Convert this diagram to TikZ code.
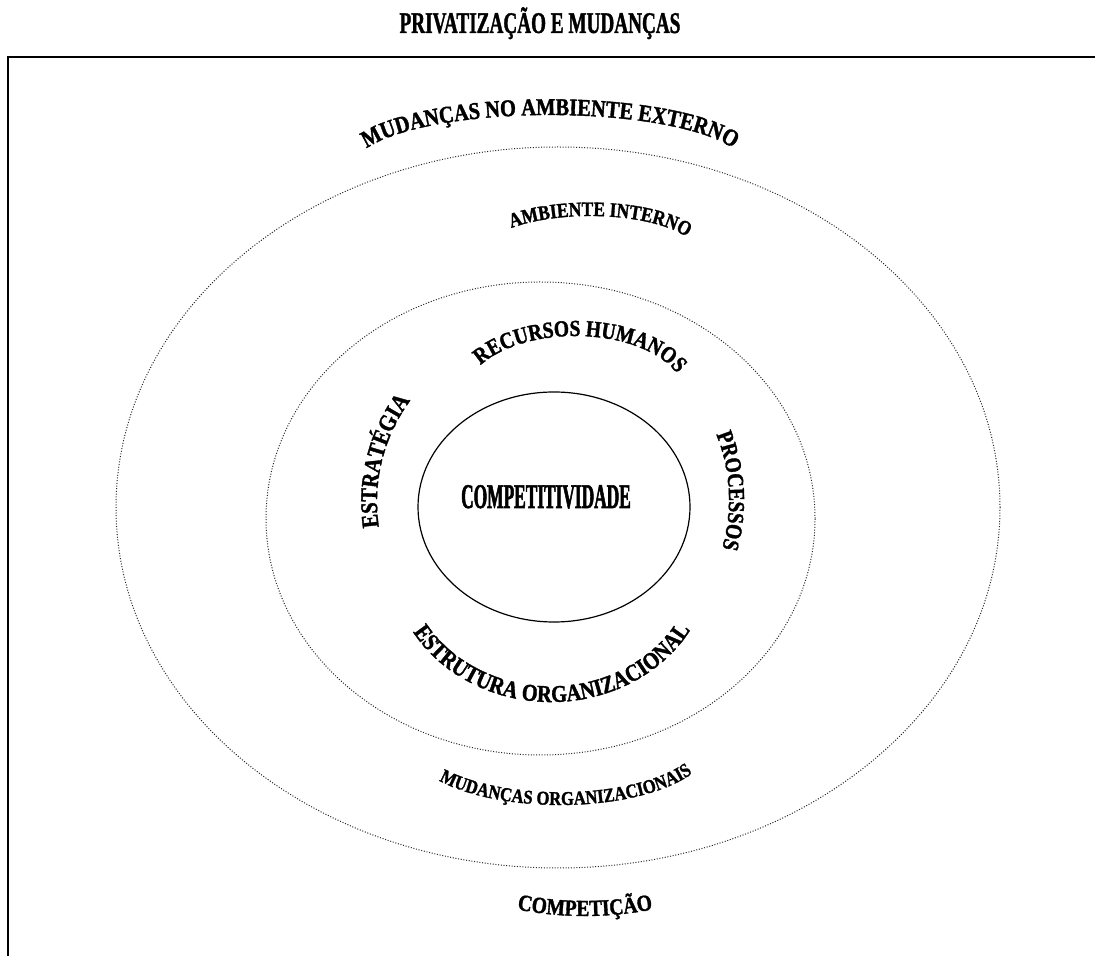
\documentclass[tikz,border=0pt]{standalone}
\usepackage{fontspec}
\setmainfont{Liberation Serif}
\newfontfamily\arcfont{Liberation Serif}[FakeStretch=0.85, FakeBold=1.5]
\newfontfamily\titlefont{Liberation Serif}[FakeStretch=0.64, FakeBold=1.2]
\newfontfamily\compfont{Liberation Serif}[FakeStretch=0.5, FakeBold=1.5]
\usetikzlibrary{decorations.text}
\newcommand\fA{\arcfont\bfseries\fontsize{24}{24}\selectfont}
\newcommand\fB{\arcfont\bfseries\fontsize{20.5}{20.5}\selectfont}
\newcommand\fC{\arcfont\bfseries\fontsize{23}{23}\selectfont}
\newcommand\fD{\arcfont\bfseries\fontsize{24}{24}\selectfont}
\newcommand\fE{\arcfont\bfseries\fontsize{23}{23}\selectfont}
\newcommand\fF{\arcfont\bfseries\fontsize{24}{24}\selectfont}
\newcommand\fG{\arcfont\bfseries\fontsize{19.5}{19.5}\selectfont}
\newcommand\fH{\arcfont\bfseries\fontsize{23}{23}\selectfont}
\tikzset{
  dotline/.style={line width=1pt, dash pattern=on 1pt off 1.7pt, black!85},
  frameline/.style={line width=1.6pt},
  arctext/.style={decorate, decoration={text along path, text align=center, text={#1}}},
}
\begin{document}
\begin{tikzpicture}[x=1pt,y=1pt]
\useasboundingbox (0,0) rectangle (1095,956);
% frame
\draw[frameline] (8,0) -- (8,899) -- (1095,899);
% title
\node[anchor=base, inner sep=0pt] (title) at (540,923) {\titlefont\bfseries\fontsize{30}{30}\selectfont PRIVATIZAÇÃO E MUDANÇAS};
% ellipses
\draw[dotline] (558,448.5) ellipse[x radius=442pt, y radius=360.5pt];
\draw[dotline] (540.5,437.5) ellipse[x radius=274.5pt, y radius=236.5pt];
\draw[line width=1.2pt] (554,449) ellipse[x radius=136pt, y radius=115pt];
% centre text
\node[anchor=base, inner sep=0pt] (comp) at (546,448) {\compfont\bfseries\fontsize{34.7}{35}\selectfont COMPETITIVIDADE};
% curved texts
\path[arctext={|\fA|MUDANÇAS NO AMBIENTE EXTERNO}]
  (550,790) ++(165:195pt and 51pt) arc[start angle=165, end angle=15, x radius=195pt, y radius=51pt];
\path[arctext={|\fB|AMBIENTE INTERNO}]
  (590,700) ++(155:110pt and 40pt) arc[start angle=155, end angle=0, x radius=110pt, y radius=40pt];
\path[arctext={|\fC|RECURSOS HUMANOS}]
  (575,560) ++(160:110pt and 60pt) arc[start angle=160, end angle=10, x radius=110pt, y radius=60pt];
\path[arctext={|\fD|ESTRATÉGIA}]
  (548,454) ++(190:171pt) arc[start angle=190, end angle=142, radius=171pt];
\path[arctext={|\fE|PROCESSOS}]
  (554,456) ++(24:175pt) arc[start angle=24, end angle=-18, radius=175pt];
\path[arctext={|\fF|ESTRUTURA ORGANIZACIONAL}]
  (551,396) ++(206:160pt and 142pt) arc[start angle=206, end angle=335, x radius=160pt, y radius=142pt];
\path[arctext={|\fG|MUDANÇAS ORGANIZACIONAIS}]
  (560,211) ++(212:150pt and 60pt) arc[start angle=212, end angle=337, x radius=150pt, y radius=60pt];
\path[arctext={|\fH|COMPETIÇÃO}]
  (585,390) ++(256:350pt) arc[start angle=256, end angle=284, radius=350pt];
\end{tikzpicture}
\end{document}
